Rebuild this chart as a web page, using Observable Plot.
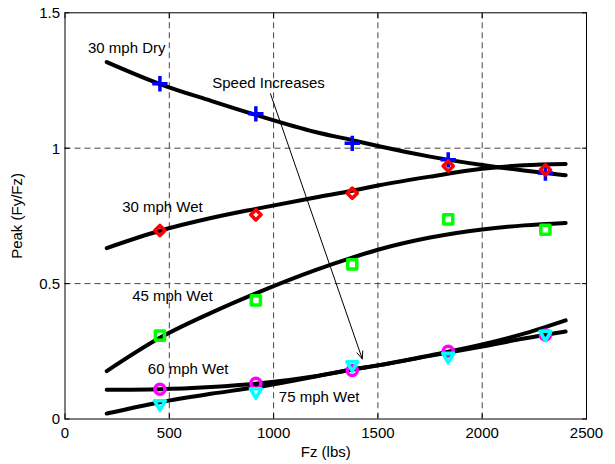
<!DOCTYPE html>
<html>
<head>
<meta charset="utf-8">
<script src="https://cdn.jsdelivr.net/npm/d3@7"></script>
<script src="https://cdn.jsdelivr.net/npm/@observablehq/plot@0.6"></script>
<style>
  html, body { margin: 0; padding: 0; background: #fff; }
</style>
</head>
<body>
<div id="chart"></div>
<script>
// Measured points (Fz in lbs, Peak Fy/Fz)
const fz = [455, 915, 1377, 1837, 2303];
const dry30 = [1.238, 1.127, 1.018, 0.957, 0.908];
const wet30 = [0.696, 0.754, 0.834, 0.934, 0.920];
const wet45 = [0.308, 0.438, 0.571, 0.737, 0.699];
const wet60 = [0.110, 0.132, 0.179, 0.250, 0.310];
const wet75 = [0.056, 0.100, 0.200, 0.231, 0.312];

// Fitted curves
const fitFz = [200, 455, 700, 915, 1200, 1377, 1500, 1750, 2000, 2200, 2400];
const fitDry30 = [1.318, 1.237, 1.175, 1.123, 1.060, 1.030, 1.008, 0.969, 0.938, 0.918, 0.900];
const fitWet30 = [0.631, 0.695, 0.742, 0.776, 0.818, 0.843, 0.862, 0.895, 0.924, 0.937, 0.942];
const fitWet45 = [0.177, 0.300, 0.392, 0.464, 0.550, 0.596, 0.625, 0.670, 0.700, 0.715, 0.724];
const fitWet60 = [0.108, 0.110, 0.118, 0.130, 0.158, 0.183, 0.198, 0.235, 0.275, 0.315, 0.364];
const fitWet75 = [0.020, 0.062, 0.093, 0.117, 0.157, 0.183, 0.198, 0.233, 0.268, 0.297, 0.323];

// Annotations
const labelText = ["30 mph Dry", "Speed Increases", "30 mph Wet", "45 mph Wet", "60 mph Wet", "75 mph Wet"];
const labelX = [110, 706, 274, 322, 397, 1025];
const labelY = [1.352, 1.223, 0.766, 0.434, 0.166, 0.062];
const arrowFrom = [985, 1.201];
const arrowTo = [1425, 0.222];

const xTicks = [0, 500, 1000, 1500, 2000, 2500];
const yTicks = [0, 0.5, 1, 1.5];
const xGrid = [500, 1000, 1500, 2000];
const yGrid = [0.5, 1];

const curves = [fitDry30, fitWet30, fitWet45, fitWet60, fitWet75].map(ys =>
  fitFz.map((x, i) => ({x, y: ys[i]})));
const pts = (ys) => fz.map((x, i) => ({x, y: ys[i]}));
const labels = labelText.map((t, i) => ({t, x: labelX[i], y: labelY[i]}));

const font = "Liberation Sans, Arial, Helvetica, sans-serif";
const mk = {fill: "none", strokeWidth: 3.5, strokeLinejoin: "round"};

const chart = Plot.plot({
  width: 615,
  height: 464,
  marginLeft: 64.5,
  marginRight: 29,
  marginTop: 12.3,
  marginBottom: 45.5,
  style: {fontFamily: font, fontSize: "15px", background: "white", color: "black"},
  x: {domain: [0, 2500]},
  y: {domain: [0, 1.5]},
  marks: [
    Plot.ruleX(xGrid, {stroke: "#444", strokeDasharray: "6,4", strokeWidth: 1}),
    Plot.ruleY(yGrid, {stroke: "#444", strokeDasharray: "6,4", strokeWidth: 1}),
    Plot.axisX({anchor: "bottom", ticks: xTicks, tickSize: 0, tickPadding: 8, fontSize: 15,
      tickFormat: d => String(d),
      label: "Fz (lbs)", labelAnchor: "center", labelArrow: "none", labelOffset: 38}),
    Plot.axisX({anchor: "bottom", ticks: xTicks, tickSize: -5, text: null, label: null}),
    Plot.axisX({anchor: "top", ticks: xTicks, tickSize: -5, text: null, label: null}),
    Plot.axisY({anchor: "left", ticks: yTicks, tickSize: 0, tickPadding: 5, fontSize: 15, dy: 0.5,
      tickFormat: d => String(d),
      label: "Peak (Fy/Fz)", labelAnchor: "center", labelArrow: "none", labelOffset: 54}),
    Plot.axisY({anchor: "left", ticks: yTicks, tickSize: -5, text: null, label: null}),
    Plot.axisY({anchor: "right", ticks: yTicks, tickSize: -5, text: null, label: null}),
    Plot.frame({stroke: "black", strokeWidth: 1}),
    ...curves.map(c => Plot.line(c, {x: "x", y: "y", stroke: "black", strokeWidth: 4,
      curve: "monotone-x", strokeLinecap: "round"})),
    Plot.dot(pts(dry30), {x: "x", y: "y", symbol: "plus", r: 5, stroke: "#0000ff", ...mk}),
    Plot.dot(pts(wet30), {x: "x", y: "y", symbol: "diamond2", r: 4.6, stroke: "#ff0000", ...mk}),
    Plot.dot(pts(wet45), {x: "x", y: "y", symbol: "square2", r: 5.8, stroke: "#00ff00", ...mk}),
    Plot.dot(pts(wet60), {x: "x", y: "y", symbol: "circle", r: 5, stroke: "#ff00ff", ...mk}),
    Plot.dot(pts(wet75), {x: "x", y: "y", symbol: "triangle2", r: 5.2, rotate: 180, stroke: "#00ffff", ...mk}),
    Plot.arrow([{x1: arrowFrom[0], y1: arrowFrom[1], x2: arrowTo[0], y2: arrowTo[1]}],
      {x1: "x1", y1: "y1", x2: "x2", y2: "y2", stroke: "black", strokeWidth: 1, headLength: 12, headAngle: 45}),
    Plot.text(labels, {x: "x", y: "y", text: "t", textAnchor: "start", lineAnchor: "bottom",
      fontSize: 15, fill: "black"})
  ]
});
document.getElementById("chart").appendChild(chart);
</script>
</body>
</html>
